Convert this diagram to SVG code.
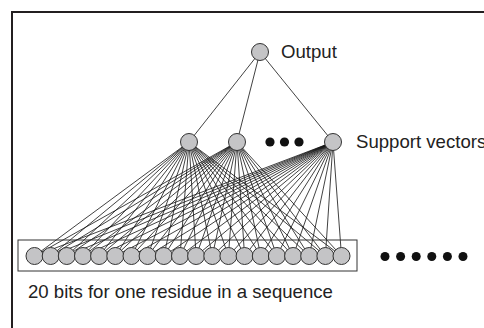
<svg xmlns="http://www.w3.org/2000/svg" width="484" height="328" viewBox="0 0 484 328">
<style>
.n{fill:#c4c4c6;stroke:#333;stroke-width:1}
.d{fill:#111}
.t{font-family:"Liberation Sans",Arial,sans-serif;font-size:18.6px;fill:#222}
.c line{stroke:#111;stroke-width:0.8}
</style>
<rect width="484" height="328" fill="#fff"/>
<path d="M12 328V12H484" fill="none" stroke="#231f20" stroke-width="2"/>
<g id="connectors" class="c">
<line x1="260" y1="52" x2="189" y2="142"/>
<line x1="260" y1="52" x2="237" y2="142"/>
<line x1="260" y1="52" x2="333" y2="142"/>
<line x1="189" y1="142" x2="34.5" y2="256"/><line x1="189" y1="142" x2="50.7" y2="256"/><line x1="189" y1="142" x2="66.8" y2="256"/><line x1="189" y1="142" x2="83" y2="256"/><line x1="189" y1="142" x2="99.1" y2="256"/><line x1="189" y1="142" x2="115.3" y2="256"/><line x1="189" y1="142" x2="131.5" y2="256"/><line x1="189" y1="142" x2="147.6" y2="256"/><line x1="189" y1="142" x2="163.8" y2="256"/><line x1="189" y1="142" x2="180" y2="256"/><line x1="189" y1="142" x2="196.1" y2="256"/><line x1="189" y1="142" x2="212.3" y2="256"/><line x1="189" y1="142" x2="228.4" y2="256"/><line x1="189" y1="142" x2="244.6" y2="256"/><line x1="189" y1="142" x2="260.8" y2="256"/><line x1="189" y1="142" x2="276.9" y2="256"/><line x1="189" y1="142" x2="293.1" y2="256"/><line x1="189" y1="142" x2="309.2" y2="256"/><line x1="189" y1="142" x2="325.4" y2="256"/><line x1="189" y1="142" x2="341.5" y2="256"/>
<line x1="237" y1="142" x2="34.5" y2="256"/><line x1="237" y1="142" x2="50.7" y2="256"/><line x1="237" y1="142" x2="66.8" y2="256"/><line x1="237" y1="142" x2="83" y2="256"/><line x1="237" y1="142" x2="99.1" y2="256"/><line x1="237" y1="142" x2="115.3" y2="256"/><line x1="237" y1="142" x2="131.5" y2="256"/><line x1="237" y1="142" x2="147.6" y2="256"/><line x1="237" y1="142" x2="163.8" y2="256"/><line x1="237" y1="142" x2="180" y2="256"/><line x1="237" y1="142" x2="196.1" y2="256"/><line x1="237" y1="142" x2="212.3" y2="256"/><line x1="237" y1="142" x2="228.4" y2="256"/><line x1="237" y1="142" x2="244.6" y2="256"/><line x1="237" y1="142" x2="260.8" y2="256"/><line x1="237" y1="142" x2="276.9" y2="256"/><line x1="237" y1="142" x2="293.1" y2="256"/><line x1="237" y1="142" x2="309.2" y2="256"/><line x1="237" y1="142" x2="325.4" y2="256"/><line x1="237" y1="142" x2="341.5" y2="256"/>
<line x1="333" y1="142" x2="34.5" y2="256"/><line x1="333" y1="142" x2="50.7" y2="256"/><line x1="333" y1="142" x2="66.8" y2="256"/><line x1="333" y1="142" x2="83" y2="256"/><line x1="333" y1="142" x2="99.1" y2="256"/><line x1="333" y1="142" x2="115.3" y2="256"/><line x1="333" y1="142" x2="131.5" y2="256"/><line x1="333" y1="142" x2="147.6" y2="256"/><line x1="333" y1="142" x2="163.8" y2="256"/><line x1="333" y1="142" x2="180" y2="256"/><line x1="333" y1="142" x2="196.1" y2="256"/><line x1="333" y1="142" x2="212.3" y2="256"/><line x1="333" y1="142" x2="228.4" y2="256"/><line x1="333" y1="142" x2="244.6" y2="256"/><line x1="333" y1="142" x2="260.8" y2="256"/><line x1="333" y1="142" x2="276.9" y2="256"/><line x1="333" y1="142" x2="293.1" y2="256"/><line x1="333" y1="142" x2="309.2" y2="256"/><line x1="333" y1="142" x2="325.4" y2="256"/><line x1="333" y1="142" x2="341.5" y2="256"/>
</g>
<g id="input-box"><rect x="18" y="240" width="339" height="31" fill="none" stroke="#333" stroke-width="1"/></g>
<g id="inputs">
<circle class="n" cx="34.5" cy="256" r="8.5"/><circle class="n" cx="50.7" cy="256" r="8.5"/><circle class="n" cx="66.8" cy="256" r="8.5"/><circle class="n" cx="83" cy="256" r="8.5"/><circle class="n" cx="99.1" cy="256" r="8.5"/><circle class="n" cx="115.3" cy="256" r="8.5"/><circle class="n" cx="131.5" cy="256" r="8.5"/><circle class="n" cx="147.6" cy="256" r="8.5"/><circle class="n" cx="163.8" cy="256" r="8.5"/><circle class="n" cx="180" cy="256" r="8.5"/><circle class="n" cx="196.1" cy="256" r="8.5"/><circle class="n" cx="212.3" cy="256" r="8.5"/><circle class="n" cx="228.4" cy="256" r="8.5"/><circle class="n" cx="244.6" cy="256" r="8.5"/><circle class="n" cx="260.8" cy="256" r="8.5"/><circle class="n" cx="276.9" cy="256" r="8.5"/><circle class="n" cx="293.1" cy="256" r="8.5"/><circle class="n" cx="309.2" cy="256" r="8.5"/><circle class="n" cx="325.4" cy="256" r="8.5"/><circle class="n" cx="341.5" cy="256" r="8.5"/>
</g>
<g id="output"><circle class="n" cx="260" cy="52" r="8.5"/><text class="t" x="281" y="58">Output</text></g>
<g id="sv1"><circle class="n" cx="189" cy="142" r="8.5"/></g>
<g id="sv2"><circle class="n" cx="237" cy="142" r="8.5"/></g>
<g id="sv3"><circle class="n" cx="333" cy="142" r="8.5"/><text class="t" x="356" y="148">Support vectors</text></g>
<g id="sv-dots"><circle class="d" cx="270" cy="142" r="4.6"/><circle class="d" cx="284.5" cy="142" r="4.6"/><circle class="d" cx="299" cy="142" r="4.6"/></g>
<g id="input-dots"><circle class="d" cx="385" cy="256.5" r="4.5"/><circle class="d" cx="400.6" cy="256.5" r="4.5"/><circle class="d" cx="416.2" cy="256.5" r="4.5"/><circle class="d" cx="431.8" cy="256.5" r="4.5"/><circle class="d" cx="447.4" cy="256.5" r="4.5"/><circle class="d" cx="463" cy="256.5" r="4.5"/></g>
<g id="caption"><text class="t" x="28" y="298">20 bits for one residue in a sequence</text></g>
</svg>
